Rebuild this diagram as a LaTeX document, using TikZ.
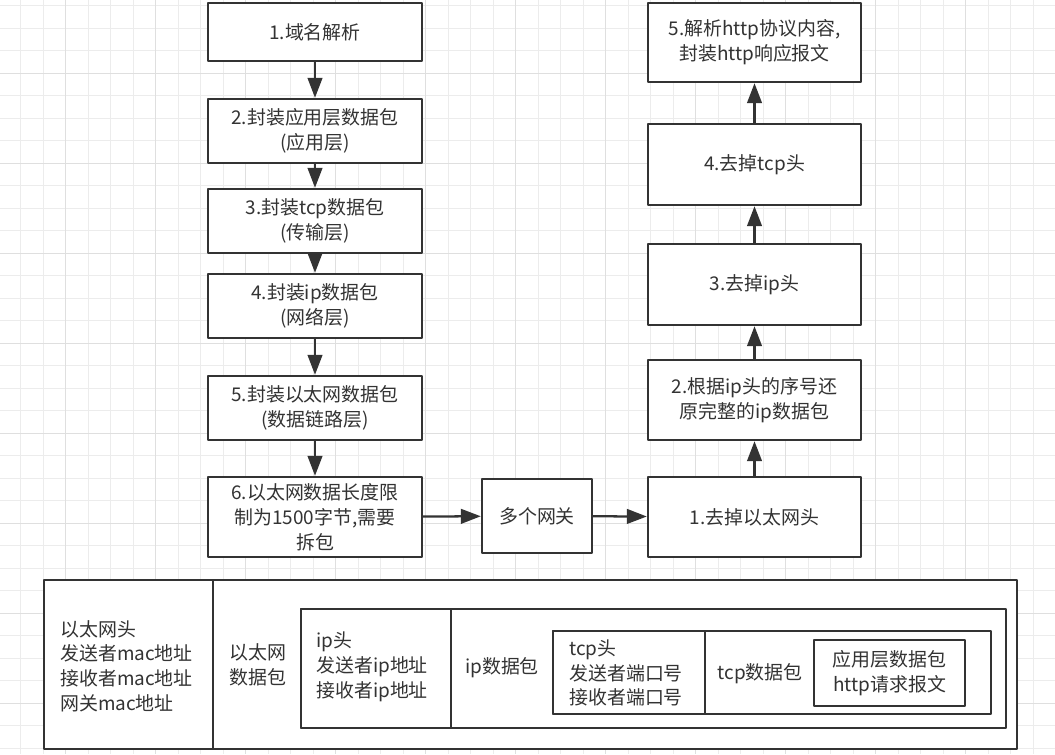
\documentclass[tikz,border=0pt]{standalone}
\usepackage{fontspec}
\setmainfont{Noto Sans CJK SC}
\usetikzlibrary{arrows.meta}
\definecolor{ink}{HTML}{333333}
\definecolor{gridminor}{HTML}{ECECEC}
\definecolor{gridmajor}{HTML}{DFDFDF}
\def\pxu{0.75pt}
\begin{document}
\begin{tikzpicture}[x=0.75pt,y=-0.75pt,line join=round,
  box/.style={draw=ink,line width=1.8pt,fill=white,text=ink,align=center,inner sep=0pt},
  txt/.style={text=ink,align=left,inner sep=0pt,anchor=west},
  arr/.style={draw=ink,line width=1.7pt,-{Triangle[length=15pt,width=11pt]}},
  every node/.style={font=\fontsize{14.2pt}{18.6pt}\selectfont}]
\useasboundingbox (0,0) rectangle (1055,754);
\fill[white] (0,0) rectangle (1055,754);
\pgfmathsetmacro{\gs}{22.5}
\foreach \i in {0,...,47} \draw[gridminor,line width=0.8pt] ({-1.8+\gs*\i},0) -- ++(0,754);
\foreach \i in {0,...,33} \draw[gridminor,line width=0.8pt] (0,{5.8+\gs*\i}) -- ++(1055,0);
\foreach \i in {0,...,11} \draw[gridmajor,line width=0.8pt] ({65.7+4*\gs*\i},0) -- ++(0,754);
\foreach \i in {0,...,7} \draw[gridmajor,line width=0.8pt] (0,{73.3+4*\gs*\i}) -- ++(1055,0);

\node[box,minimum width=214*\pxu,minimum height=58*\pxu] (s1) at (315,32) {1.域名解析};
\node[box,minimum width=214*\pxu,minimum height=64*\pxu] (s2) at (315,131) {2.封装应用层数据包\\(应用层)};
\node[box,minimum width=214*\pxu,minimum height=64*\pxu] (s3) at (315,221) {3.封装tcp数据包\\(传输层)};
\node[box,minimum width=214*\pxu,minimum height=64*\pxu] (s4) at (315,306) {4.封装ip数据包\\(网络层)};
\node[box,minimum width=214*\pxu,minimum height=64*\pxu] (s5) at (315,408) {5.封装以太网数据包\\(数据链路层)};
\node[box,minimum width=214*\pxu,minimum height=80*\pxu] (s6) at (315,517) {6.以太网数据长度限\\制为1500字节,需要\\拆包};
\node[box,minimum width=110*\pxu,minimum height=74*\pxu] (gw) at (537,516) {多个网关};
\node[box,minimum width=213*\pxu,minimum height=80*\pxu] (r1) at (754.5,517) {1.去掉以太网头};
\node[box,minimum width=213*\pxu,minimum height=80*\pxu] (r2) at (754.5,400) {2.根据ip头的序号还\\原完整的ip数据包};
\node[box,minimum width=213*\pxu,minimum height=81*\pxu] (r3) at (754.5,284.5) {3.去掉ip头};
\node[box,minimum width=213*\pxu,minimum height=81*\pxu] (r4) at (754.5,164.5) {4.去掉tcp头};
\node[box,minimum width=213*\pxu,minimum height=79*\pxu] (r5) at (754.5,42.5) {5.解析http协议内容,\\封装http响应报文};

\draw[arr] (s1) -- (s2);
\draw[arr] (s2) -- (s3);
\draw[arr] (s3) -- (s4);
\draw[arr] (s4) -- (s5);
\draw[arr] (s5) -- (s6);
\draw[arr] (s6) -- (gw);
\draw[arr] (gw) -- (r1);
\draw[arr] (r1) -- (r2);
\draw[arr] (r2) -- (r3);
\draw[arr] (r3) -- (r4);
\draw[arr] (r4) -- (r5);

\node[box,minimum width=804*\pxu,minimum height=169*\pxu] (eth) at (615,664.5) {};
\node[box,minimum width=169*\pxu,minimum height=169*\pxu] (mac) at (128.5,664.5) {};
\node[box,minimum width=705*\pxu,minimum height=119*\pxu] (ip) at (653.5,668.5) {};
\node[box,minimum width=150*\pxu,minimum height=119*\pxu] (iphead) at (376,668.5) {};
\node[box,minimum width=438*\pxu,minimum height=83*\pxu] (tcp) at (772,672.5) {};
\node[box,minimum width=152*\pxu,minimum height=83*\pxu] (tcphead) at (629,672.5) {};
\node[box,minimum width=151*\pxu,minimum height=66*\pxu] (app) at (889.5,673) {应用层数据包\\http请求报文};

\node[txt] (mactxt) at (60,666) {以太网头\\发送者mac地址\\接收者mac地址\\网关mac地址};
\node[txt] (ethtxt) at (229,665) {以太网\\数据包};
\node[txt] (iptxt) at (316,667) {ip头\\发送者ip地址\\接收者ip地址};
\node[txt,anchor=center] (ipdata) at (502,668) {ip数据包};
\node[txt] (tcptxt) at (569,673) {tcp头\\发送者端口号\\接收者端口号};
\node[txt,anchor=center] (tcpdata) at (760,674) {tcp数据包};
\end{tikzpicture}
\end{document}
